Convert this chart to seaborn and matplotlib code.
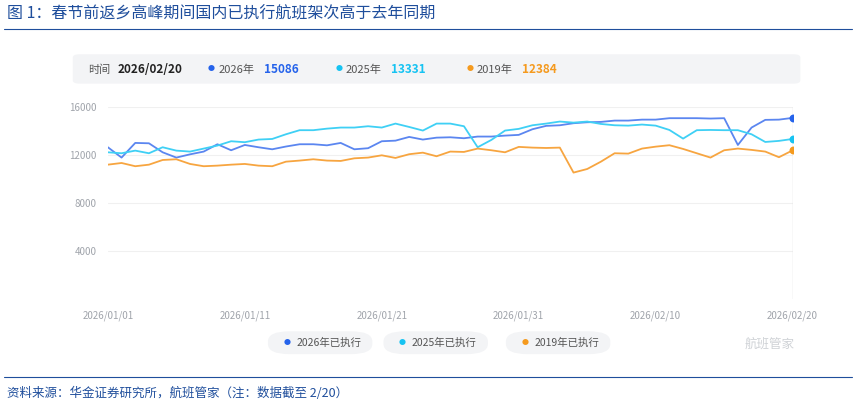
import numpy as np
import pandas as pd
import matplotlib
matplotlib.use('Agg')
import matplotlib.pyplot as plt
import seaborn as sns
from matplotlib.patches import FancyBboxPatch

sns.set_style("white")
plt.rcParams['font.family'] = ['Noto Sans CJK SC', 'DejaVu Sans']

dates = pd.date_range('2026-01-01', '2026-02-20')
y2026 = [12640, 11780, 13000, 12970, 12220, 11780, 12050, 12280, 12890, 12390,
         12830, 12640, 12470, 12700, 12890, 12890, 12800, 13000, 12470, 12560,
         13140, 13190, 13500, 13280, 13440, 13470, 13390, 13530, 13530, 13610,
         13670, 14140, 14420, 14470, 14640, 14720, 14750, 14860, 14860, 14940,
         14940, 15060, 15060, 15060, 15030, 15060, 12830, 14280, 14920, 14940, 15086]
y2025 = [12220, 12140, 12360, 12140, 12640, 12360, 12280, 12530, 12780, 13140,
         13060, 13280, 13330, 13720, 14060, 14060, 14190, 14280, 14280, 14390,
         14280, 14610, 14330, 14030, 14610, 14610, 14390, 12640, 13250, 14030,
         14170, 14470, 14610, 14780, 14690, 14780, 14580, 14470, 14440, 14530,
         14440, 14080, 13360, 14060, 14080, 14060, 14060, 13720, 13080, 13170, 13331]
y2019 = [11190, 11330, 11060, 11190, 11580, 11640, 11250, 11060, 11110, 11190,
         11250, 11110, 11060, 11440, 11530, 11640, 11530, 11500, 11720, 11780,
         11970, 11750, 12060, 12190, 11890, 12280, 12250, 12530, 12390, 12220,
         12670, 12610, 12580, 12610, 10530, 10830, 11440, 12140, 12110, 12530,
         12690, 12810, 12500, 12140, 11780, 12390, 12530, 12420, 12280, 11810, 12384]

series = [('2026年已执行', y2026, '#5b86f0', '#2563eb'),
          ('2025年已执行', y2025, '#3fd0f5', '#16c3f2'),
          ('2019年已执行', y2019, '#f7a540', '#f59a1e')]

fig = plt.figure(figsize=(8.56, 4.08), dpi=100)
ax = fig.add_axes([0.126, 0.267, 0.800, 0.471])
x = np.arange(len(dates))
for name, ys, c, dc in series:
    sns.lineplot(x=x, y=ys, ax=ax, color=c, linewidth=1.3)
    ax.scatter([x[-1]], [ys[-1]], color=dc, s=22, zorder=5)

ax.set_xlim(0, 50)
ax.set_ylim(0, 16000)
ax.set_yticks([4000, 8000, 12000, 16000])
ax.set_yticklabels(['4000', '8000', '12000', '16000'])
ax.set_xticks([0, 10, 20, 30, 40, 50])
ax.set_xticklabels([d.strftime('%Y/%m/%d') for d in dates[[0, 10, 20, 30, 40, 50]]])
ax.tick_params(axis='both', labelsize=7, colors='#a0a4ab', length=0, pad=8)
ax.grid(axis='y', color='#f0f0f0', linewidth=0.8)
for s in ax.spines.values():
    s.set_visible(False)
ax.axvline(50, color='#dcdcdc', linewidth=1)

# title
fig.text(0.008, 0.965, '图 1：春节前返乡高峰期间国内已执行航班架次高于去年同期',
         fontsize=11.5, color='#1f4e9c', va='center')
fig.add_artist(plt.Line2D([0.005, 0.995], [0.93, 0.93], color='#1f4e9c', linewidth=0.8))

# info box
fig.add_artist(FancyBboxPatch((0.085, 0.795), 0.85, 0.072, boxstyle='round,pad=0,rounding_size=0.008',
                              facecolor='#f3f4f6', edgecolor='none', transform=fig.transFigure))
fig.text(0.103, 0.83, '时间', fontsize=8, color='#555', va='center')
fig.text(0.137, 0.83, '2026/02/20', fontsize=8.5, color='#222', weight='bold', va='center')
info = [(0.243, '2026年', '15086', '#2563eb'), (0.392, '2025年', '13331', '#16c3f2'),
        (0.545, '2019年', '12384', '#f59a1e')]
for xp, lab, v, c in info:
    fig.text(xp, 0.83, '●', fontsize=5, color=c, va='center')
    fig.text(xp + 0.012, 0.83, lab, fontsize=8, color='#555', va='center')
    fig.text(xp + 0.065, 0.83, v, fontsize=8.5, color=c, weight='bold', va='center')

# legend pills
for xp, (name, ys, c, dc) in zip([0.313, 0.448, 0.591], series):
    fig.add_artist(FancyBboxPatch((xp, 0.132), 0.122, 0.056, boxstyle='round,pad=0,rounding_size=0.025',
                                  facecolor='#f3f4f6', edgecolor='none', transform=fig.transFigure))
    fig.text(xp + 0.018, 0.160, '●', fontsize=5, color=dc, va='center')
    fig.text(xp + 0.033, 0.160, name, fontsize=7.5, color='#555', va='center')

fig.text(0.87, 0.157, '航班管家', fontsize=9, color='#cfd2d6', va='center')

fig.add_artist(plt.Line2D([0.005, 0.995], [0.075, 0.075], color='#1f4e9c', linewidth=0.8))
fig.text(0.008, 0.035, '资料来源：华金证券研究所，航班管家（注：数据截至 2/20）',
         fontsize=9, color='#1f4e9c', style='italic', va='center')

fig.savefig('out.png', dpi=100)
